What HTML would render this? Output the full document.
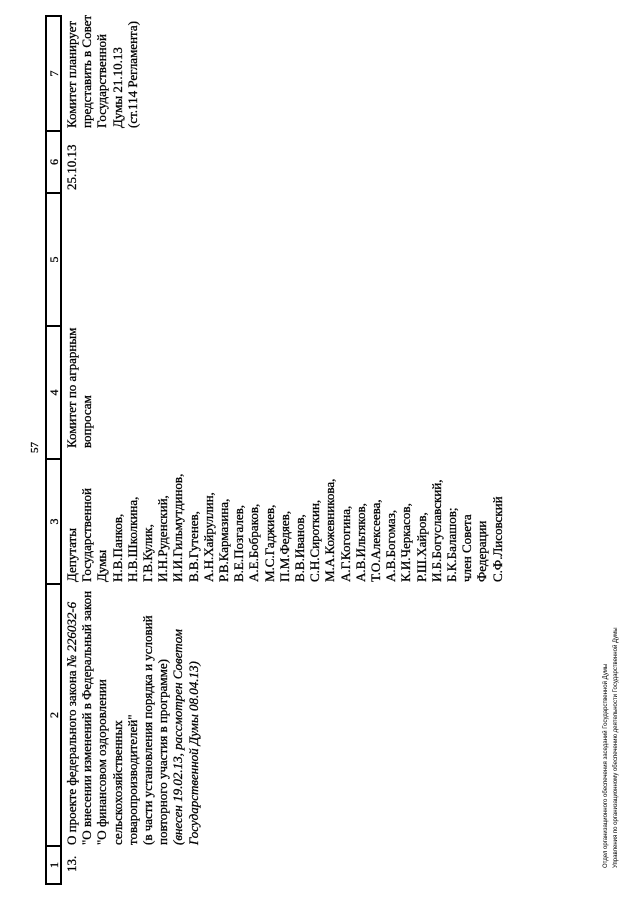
<!DOCTYPE html>
<html><head><meta charset="utf-8"><style>
html,body{margin:0;padding:0;background:#fff;}
body{width:640px;height:905px;overflow:hidden;position:relative;}
#pg{position:absolute;left:0;top:0;width:905px;height:640px;transform-origin:0 0;transform:translate(0,905px) rotate(-90deg);font-family:"Liberation Serif",serif;color:#000;-webkit-text-stroke:0.3px #000;}
.hd{position:absolute;top:45px;height:17px;border:2px solid #000;border-right:none;box-sizing:border-box;text-align:center;font-size:12px;line-height:14px;}
.c{position:absolute;top:64px;font-size:13px;line-height:15.2px;white-space:nowrap;}
.ft{position:absolute;left:37px;font-family:"Liberation Sans",sans-serif;font-size:6px;white-space:nowrap;-webkit-text-stroke:0;}
</style></head><body><div id="pg">
<div style="position:absolute;left:452px;top:29px;font-size:11px;">57</div>
<div class="hd" style="left:20px;width:38px">1</div>
<div class="hd" style="left:58px;width:262px">2</div>
<div class="hd" style="left:320px;width:125px">3</div>
<div class="hd" style="left:445px;width:133px">4</div>
<div class="hd" style="left:578px;width:133px">5</div>
<div class="hd" style="left:711px;width:62px">6</div>
<div class="hd" style="left:773px;width:117px;border-right:2px solid #000">7</div>
<div class="c" style="left:33px">13.</div>
<div class="c" style="left:60px">О проекте федерального закона <i>№ 226032-6</i><br>"О внесении изменений в Федеральный закон<br>"О финансовом оздоровлении<br>сельскохозяйственных<br>товаропроизводителей"<br>(в части установления порядка и условий<br>повторного участия в программе)<br><i>(внесен 19.02.13, рассмотрен Советом<br>Государственной Думы 08.04.13)</i></div>
<div class="c" style="left:323px">Депутаты<br>Государственной<br>Думы<br>Н.В.Панков,<br>Н.В.Школкина,<br>Г.В.Кулик,<br>И.Н.Руденский,<br>И.И.Гильмутдинов,<br>В.В.Гутенев,<br>А.Н.Хайруллин,<br>Р.В.Кармазина,<br>В.Е.Позгалев,<br>А.Е.Бобраков,<br>М.С.Гаджиев,<br>П.М.Федяев,<br>В.В.Иванов,<br>С.Н.Сироткин,<br>М.А.Кожевникова,<br>А.Г.Когогина,<br>А.В.Ильтяков,<br>Т.О.Алексеева,<br>А.В.Богомаз,<br>К.И.Черкасов,<br>Р.Ш.Хайров,<br>И.Б.Богуславский,<br>Б.К.Балашов;<br>член Совета<br>Федерации<br>С.Ф.Лисовский</div>
<div class="c" style="left:457px">Комитет по аграрным<br>вопросам</div>
<div class="c" style="left:715px">25.10.13</div>
<div class="c" style="left:777px">Комитет планирует<br>представить в Совет<br>Государственной<br>Думы 21.10.13<br>(ст.114 Регламента)</div>
<div class="ft" style="top:603px">Отдел организационного обеспечения заседаний Государственной Думы</div>
<div class="ft" style="top:613px">Управления по организационному обеспечению деятельности Государственной Думы</div>
</div></body></html>
